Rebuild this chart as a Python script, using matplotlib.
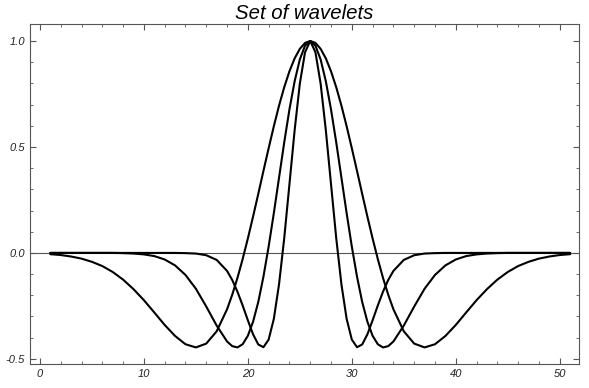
import numpy as np
import matplotlib.pyplot as plt
from matplotlib.ticker import MultipleLocator

# sample positions (finer spacing through the centre where the curves bend fast)
x = np.r_[1:19, 18.5:34:0.5, 34:52]

# wide wavelet
wide = [-0.006, -0.010, -0.017, -0.027, -0.042, -0.062, -0.090, -0.126, -0.171,
        -0.223, -0.281, -0.340, -0.392, -0.431, -0.446, -0.428, -0.370, -0.266,
        -0.197, -0.118, -0.029, 0.068, 0.171, 0.278, 0.387, 0.494, 0.598, 0.695,
        0.782, 0.857, 0.918, 0.963, 0.991, 1.000, 0.991, 0.963, 0.918, 0.857,
        0.782, 0.695, 0.598, 0.494, 0.387, 0.278, 0.171, 0.068, -0.029, -0.118,
        -0.197,
        -0.266, -0.370, -0.428, -0.446, -0.431, -0.392, -0.340, -0.281, -0.223,
        -0.171, -0.126, -0.090, -0.062, -0.042, -0.027, -0.017, -0.010, -0.006]

# middle wavelet
middle = [0.0, 0.0, 0.0, 0.0, 0.0, 0.0, 0.0, -0.001, -0.003,
          -0.007, -0.015, -0.031, -0.059, -0.104, -0.169, -0.253, -0.343, -0.418,
          -0.440, -0.446, -0.431, -0.391, -0.325, -0.232, -0.112, 0.030, 0.188,
          0.355, 0.522, 0.677, 0.810, 0.913, 0.978, 1.000, 0.978, 0.913, 0.810,
          0.677, 0.522, 0.355, 0.188, 0.030, -0.112, -0.232, -0.325, -0.391,
          -0.431, -0.446, -0.440,
          -0.418, -0.343, -0.253, -0.169, -0.104, -0.059, -0.031, -0.015, -0.007,
          -0.003, -0.001, 0.0, 0.0, 0.0, 0.0, 0.0, 0.0, 0.0]

# narrow wavelet
narrow = [0.0, 0.0, 0.0, 0.0, 0.0, 0.0, 0.0, 0.0, 0.0,
          0.0, 0.0, 0.0, 0.0, -0.001, -0.003, -0.011, -0.033, -0.085,
          -0.128, -0.183, -0.248, -0.318, -0.384, -0.432, -0.445, -0.409, -0.311,
          -0.148, 0.070, 0.324, 0.579, 0.799, 0.947, 1.000, 0.947, 0.799, 0.579,
          0.324, 0.070, -0.148, -0.311, -0.409, -0.445, -0.432, -0.384, -0.318,
          -0.248, -0.183, -0.128,
          -0.085, -0.033, -0.011, -0.003, -0.001, 0.0, 0.0, 0.0, 0.0,
          0.0, 0.0, 0.0, 0.0, 0.0, 0.0, 0.0, 0.0, 0.0]

plt.rcParams['font.family'] = ['Liberation Sans', 'DejaVu Sans']

fig = plt.figure(figsize=(5.89, 3.88), dpi=100)
ax = fig.add_axes([0.051, 0.062, 0.932, 0.876])

ax.axhline(0, color='#555555', lw=0.8, zorder=1)
for y in (wide, middle, narrow):
    ax.plot(x, y, color='black', lw=1.5, zorder=2,
            solid_joinstyle='round', solid_capstyle='round')

ax.set_xlim(-0.95, 51.85)
ax.set_ylim(-0.524, 1.08)

ax.xaxis.set_major_locator(MultipleLocator(10))
ax.xaxis.set_minor_locator(MultipleLocator(2))
ax.yaxis.set_major_locator(MultipleLocator(0.5))
ax.yaxis.set_minor_locator(MultipleLocator(0.1))
ax.tick_params(which='both', direction='in', top=True, right=True,
               colors='#555555', labelcolor='#222222', labelsize=8)
ax.tick_params(which='major', length=4, width=0.8)
ax.tick_params(which='minor', length=2.5, width=0.6)
for lab in ax.get_xticklabels() + ax.get_yticklabels():
    lab.set_style('italic')
ax.yaxis.set_major_formatter(plt.FuncFormatter(lambda v, p: f"{v:.1f}".replace('\u2212', '-')))

for s in ax.spines.values():
    s.set_color('#555555')
    s.set_linewidth(0.8)

ax.set_title('Set of wavelets', fontsize=14.7, style='italic', pad=4)

fig.savefig('out.png', dpi=100)
